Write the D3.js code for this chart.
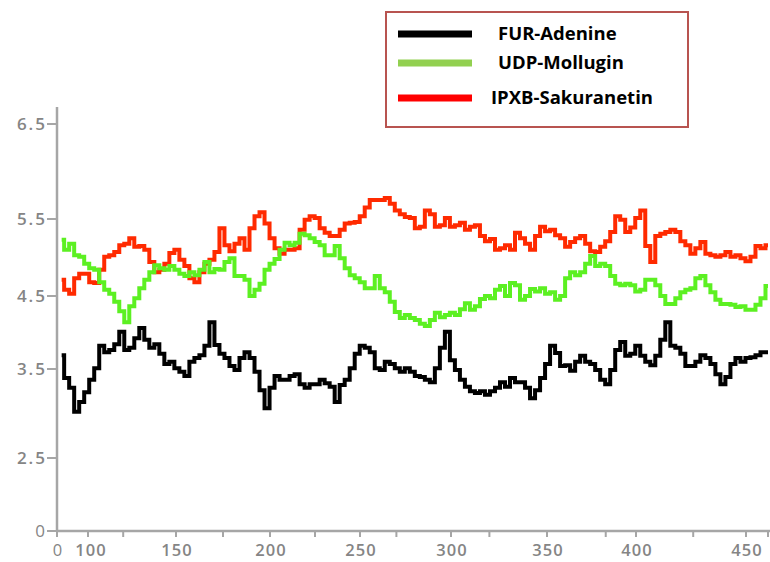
<!DOCTYPE html>
<html>
<head>
<meta charset="utf-8">
<script src="https://cdn.jsdelivr.net/npm/d3@7"></script>
<style>
  body { margin: 0; background: #fff; }
  .tick-label { font-family: "Open Sans", sans-serif; font-weight: 600; font-size: 17px; fill: #858585; }
  .legend-text { font-family: "Open Sans", sans-serif; font-weight: 700; font-size: 18.5px; fill: #000; }
</style>
</head>
<body>
<div id="chart"></div>
<script>
// Tick values as printed on the figure (the axes are not evenly spaced).
var xTickValues = [0, 100, 150, 200, 250, 300, 350, 400, 450];
var xMinorTicks = [120, 175, 225, 270, 320, 383, 426, 460];
var yTickValues = [0, 2.5, 3.5, 4.5, 5.5, 6.5];

var seriesNames = ["FUR-Adenine", "UDP-Mollugin", "IPXB-Sakuranetin"];

// Time span covered by the traces, in axis units.
var timeStart = 15;
var timeEnd = 460;

// Values, evenly spaced in time.
var furAdenine = [3.69, 3.40, 3.29, 3.02, 3.13, 3.24, 3.38, 3.51, 3.82, 3.73, 3.76, 3.84, 4.01, 3.76, 3.79, 3.92,
  4.06, 3.90, 3.79, 3.84, 3.71, 3.57, 3.60, 3.51, 3.47, 3.42, 3.60, 3.65, 3.69, 3.82, 4.14, 3.83, 3.71, 3.65,
  3.54, 3.49, 3.65, 3.73, 3.65, 3.47, 3.26, 3.06, 3.29, 3.42, 3.38, 3.38, 3.42, 3.44, 3.33, 3.29, 3.33, 3.33,
  3.38, 3.34, 3.30, 3.13, 3.32, 3.38, 3.51, 3.71, 3.82, 3.79, 3.73, 3.51, 3.49, 3.60, 3.57, 3.51, 3.47, 3.51,
  3.47, 3.42, 3.41, 3.38, 3.35, 3.51, 3.79, 4.01, 3.62, 3.49, 3.38, 3.30, 3.25, 3.23, 3.25, 3.21, 3.25, 3.29,
  3.35, 3.30, 3.40, 3.35, 3.35, 3.29, 3.17, 3.26, 3.40, 3.57, 3.82, 3.72, 3.54, 3.55, 3.48, 3.60, 3.68, 3.60,
  3.57, 3.49, 3.38, 3.33, 3.49, 3.76, 3.87, 3.68, 3.71, 3.82, 3.68, 3.60, 3.55, 3.68, 3.90, 4.14, 3.82, 3.79,
  3.71, 3.54, 3.54, 3.60, 3.69, 3.65, 3.57, 3.44, 3.33, 3.41, 3.57, 3.65, 3.60, 3.65, 3.66, 3.69, 3.73, 3.73];

var udpMollugin = [5.23, 5.10, 5.18, 5.03, 5.01, 4.92, 4.86, 4.84, 4.68, 4.58, 4.53, 4.42, 4.29, 4.14, 4.36, 4.47,
  4.60, 4.71, 4.81, 4.90, 4.86, 4.84, 4.89, 4.84, 4.79, 4.76, 4.81, 4.77, 4.84, 4.94, 4.81, 4.85, 4.84, 4.94,
  4.99, 4.76, 4.76, 4.71, 4.50, 4.58, 4.66, 4.84, 4.92, 4.98, 5.10, 5.19, 5.16, 5.19, 5.31, 5.29, 5.25, 5.20,
  5.16, 5.03, 5.03, 5.15, 4.99, 4.86, 4.77, 4.73, 4.68, 4.60, 4.60, 4.76, 4.60, 4.55, 4.42, 4.28, 4.20, 4.24,
  4.20, 4.17, 4.12, 4.09, 4.17, 4.27, 4.21, 4.24, 4.27, 4.24, 4.32, 4.40, 4.31, 4.36, 4.46, 4.50, 4.47, 4.58,
  4.63, 4.50, 4.67, 4.64, 4.45, 4.50, 4.59, 4.56, 4.60, 4.53, 4.55, 4.45, 4.50, 4.73, 4.81, 4.77, 4.81, 4.92,
  5.02, 4.89, 4.92, 4.89, 4.76, 4.66, 4.64, 4.66, 4.64, 4.56, 4.58, 4.71, 4.71, 4.64, 4.50, 4.39, 4.39, 4.47,
  4.55, 4.58, 4.60, 4.73, 4.76, 4.64, 4.55, 4.45, 4.39, 4.39, 4.38, 4.35, 4.36, 4.31, 4.31, 4.38, 4.47, 4.63];

var ipxbSakuranetin = [4.71, 4.58, 4.53, 4.73, 4.79, 4.79, 4.68, 4.67, 4.84, 5.01, 5.03, 5.07, 5.16, 5.18, 5.25, 5.14,
  5.15, 5.10, 4.94, 4.81, 4.84, 4.92, 5.06, 5.10, 4.97, 4.89, 4.73, 4.68, 4.81, 4.92, 4.97, 5.07, 5.38, 5.16,
  5.08, 5.18, 5.25, 5.10, 5.38, 5.53, 5.57, 5.44, 5.25, 5.12, 5.05, 5.10, 5.10, 5.12, 5.36, 5.49, 5.53, 5.51,
  5.38, 5.32, 5.28, 5.28, 5.36, 5.44, 5.45, 5.46, 5.53, 5.62, 5.70, 5.70, 5.70, 5.72, 5.66, 5.59, 5.55, 5.52,
  5.51, 5.38, 5.40, 5.59, 5.55, 5.40, 5.42, 5.51, 5.40, 5.42, 5.45, 5.36, 5.40, 5.42, 5.28, 5.21, 5.24, 5.10,
  5.12, 5.16, 5.10, 5.32, 5.25, 5.18, 5.10, 5.28, 5.40, 5.34, 5.36, 5.29, 5.25, 5.14, 5.20, 5.25, 5.28, 5.18,
  5.08, 5.07, 5.14, 5.21, 5.33, 5.53, 5.49, 5.33, 5.39, 5.51, 5.59, 5.15, 4.94, 5.28, 5.31, 5.33, 5.36, 5.33,
  5.21, 5.16, 5.05, 5.12, 5.20, 5.05, 5.03, 5.01, 5.03, 5.07, 5.01, 5.03, 4.99, 4.95, 5.01, 5.15, 5.12, 5.16];

// Layout.
var svgWidth = 770;
var svgHeight = 562;

var svg = d3.select("#chart")
  .append("svg")
  .attr("width", svgWidth)
  .attr("height", svgHeight);

// Piecewise scales, because the printed ticks are unevenly spaced.
var xScale = d3.scaleLinear()
  .domain(xTickValues)
  .range([57, 88, 176, 270, 360, 451, 547, 636, 746]);

var yScale = d3.scaleLinear()
  .domain(yTickValues)
  .range([531, 458, 369, 296, 219, 124]);

var axisColor = "#a6a6a6";

// Axes lines.
svg.append("line")
  .attr("x1", 57).attr("x2", 57)
  .attr("y1", 107).attr("y2", yScale(0) + 1)
  .attr("stroke", axisColor)
  .attr("stroke-width", 2.5);

svg.append("line")
  .attr("x1", 56).attr("x2", 770)
  .attr("y1", yScale(0)).attr("y2", yScale(0))
  .attr("stroke", axisColor)
  .attr("stroke-width", 2.5);

// Y ticks and labels.
svg.selectAll(".ytick")
  .data(yTickValues)
  .enter()
  .append("line")
  .attr("class", "ytick")
  .attr("x1", 47).attr("x2", 57)
  .attr("y1", d => yScale(d)).attr("y2", d => yScale(d))
  .attr("stroke", axisColor)
  .attr("stroke-width", 2);

svg.selectAll(".ylabel")
  .data(yTickValues)
  .enter()
  .append("text")
  .attr("class", "tick-label")
  .attr("x", 47)
  .attr("y", d => yScale(d))
  .attr("dy", "0.35em")
  .attr("text-anchor", "end")
  .style("letter-spacing", "2px")
  .style("font-weight", d => d === 0 ? 400 : 600)
  .text(d => d);

// X ticks and labels.
svg.selectAll(".xtick")
  .data(xTickValues.concat(xMinorTicks))
  .enter()
  .append("line")
  .attr("class", "xtick")
  .attr("x1", d => xScale(d)).attr("x2", d => xScale(d))
  .attr("y1", yScale(0)).attr("y2", yScale(0) + 6)
  .attr("stroke", axisColor)
  .attr("stroke-width", 2);

svg.selectAll(".xlabel")
  .data(xTickValues)
  .enter()
  .append("text")
  .attr("class", "tick-label")
  .attr("x", d => xScale(d) + (d === 100 ? 3 : 1))
  .attr("y", 556)
  .attr("text-anchor", "middle")
  .style("font-size", "16.5px")
  .style("letter-spacing", "1px")
  .style("font-weight", d => d === 0 ? 400 : 600)
  .text(d => d);

// Traces.
var seriesData = [ipxbSakuranetin, udpMollugin, furAdenine];
var traceColors = ["#ff2a00", "#5cf022", "#000000"];

seriesData.forEach(function(values, i) {
  var tScale = d3.scaleLinear()
    .domain([0, values.length - 1])
    .range([xScale(timeStart), xScale(timeEnd)]);

  var line = d3.line()
    .x((d, j) => tScale(j))
    .y(d => yScale(d))
    .curve(d3.curveStep);

  svg.append("path")
    .datum(values)
    .attr("d", line)
    .attr("fill", "none")
    .attr("stroke", traceColors[i])
    .attr("stroke-width", 4)
    .attr("stroke-linejoin", "miter");
});

// Legend.
var legendColors = ["#000000", "#92d050", "#ff0000"];
var legendRows = [34, 63, 98];
var legendTextX = [498, 498, 491];

var legend = svg.append("g");

legend.append("rect")
  .attr("x", 386).attr("y", 12)
  .attr("width", 302).attr("height", 115)
  .attr("fill", "#fff")
  .attr("stroke", "#b85450")
  .attr("stroke-width", 2);

legend.selectAll(".legend-line")
  .data(seriesNames)
  .enter()
  .append("line")
  .attr("x1", 398).attr("x2", 472)
  .attr("y1", (d, i) => legendRows[i]).attr("y2", (d, i) => legendRows[i])
  .attr("stroke", (d, i) => legendColors[i])
  .attr("stroke-width", 7);

legend.selectAll(".legend-text")
  .data(seriesNames)
  .enter()
  .append("text")
  .attr("class", "legend-text")
  .attr("x", (d, i) => legendTextX[i])
  .attr("y", (d, i) => legendRows[i])
  .attr("dy", "0.35em")
  .text(d => d);
</script>
</body>
</html>
